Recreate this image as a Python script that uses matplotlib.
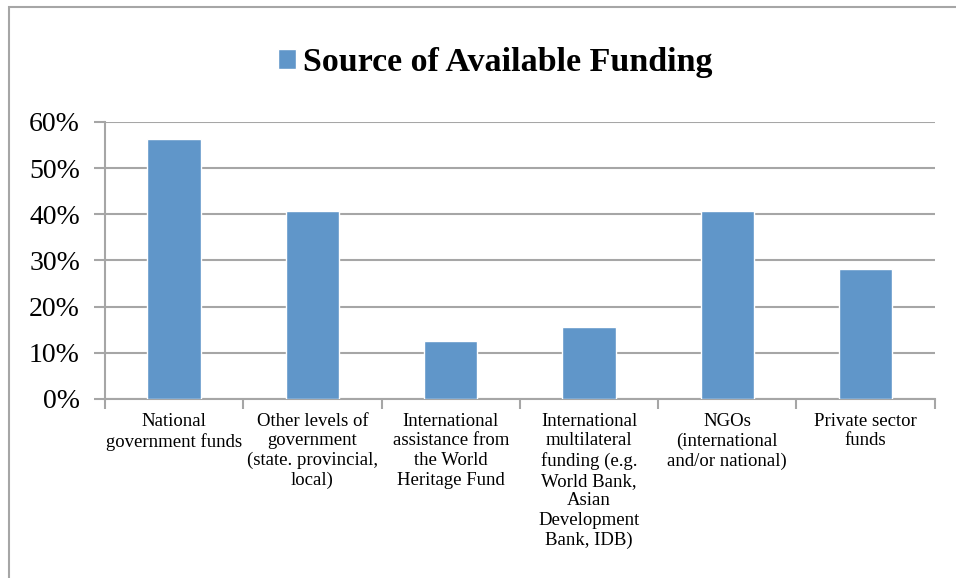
import matplotlib.pyplot as plt
from matplotlib.patches import Rectangle
from matplotlib.ticker import PercentFormatter, FixedLocator, NullFormatter
import numpy as np

categories = [
    "National\ngovernment funds",
    "Other levels of\ngovernment\n(state. provincial,\nlocal)",
    "International\nassistance from\nthe World\nHeritage Fund",
    "International\nmultilateral\nfunding (e.g.\nWorld Bank,\nAsian\nDevelopment\nBank, IDB)",
    "NGOs\n(international\nand/or national)",
    "Private sector\nfunds",
]
values = [56.25, 40.6, 12.5, 15.6, 40.6, 28.1]
series_name = "Source of Available Funding"
yticks = [0, 10, 20, 30, 40, 50, 60]

bar_color = "#6096c9"
grid_color = "#a6a6a6"
font = "Liberation Serif"

fig = plt.figure(figsize=(9.56, 5.78), dpi=100)
ax = fig.add_axes([0.1098, 0.3097, 0.868, 0.4795])

x = np.arange(len(categories))
ax.bar(x, values, width=0.385, color=bar_color, edgecolor="white",
       linewidth=1.0, zorder=3, label=series_name)

ax.set_xlim(-0.5, len(categories) - 0.5)
ax.set_ylim(0, 60)
ax.set_yticks(yticks)
ax.yaxis.set_major_formatter(PercentFormatter(decimals=0))
ax.grid(axis="y", color=grid_color, linewidth=1.5, zorder=0)

# category labels centered, ticks on the boundaries
ax.set_xticks(x)
ax.set_xticklabels(categories, fontsize=13.5, family=font, linespacing=1.2,
                   va="top")
ax.tick_params(axis="x", length=0, pad=10)
ax.xaxis.set_minor_locator(FixedLocator(np.arange(-0.5, len(categories), 1)))
ax.xaxis.set_minor_formatter(NullFormatter())
ax.tick_params(axis="x", which="minor", length=7, width=1.5, color=grid_color)
ax.tick_params(axis="y", length=8, width=1.5, color=grid_color, pad=10,
               labelsize=20)
for lab in ax.get_yticklabels():
    lab.set_family(font)

for side in ["top", "right"]:
    ax.spines[side].set_visible(False)
for side in ["left", "bottom"]:
    ax.spines[side].set_color(grid_color)
    ax.spines[side].set_linewidth(1.5)

leg = ax.legend(loc="center", bbox_to_anchor=(0.518, 0.892),
                bbox_transform=fig.transFigure, frameon=False,
                handlelength=0.55, handleheight=0.55, handletextpad=0.2,
                prop={"family": font, "weight": "bold", "size": 24.5})

# outer chart border
fig.patches.append(Rectangle((9 / 956, -0.1), 1.2, 1 - 7 / 578 + 0.1,
                             transform=fig.transFigure, fill=False,
                             edgecolor=grid_color, linewidth=1.5))

fig.savefig("out.png", dpi=100)
